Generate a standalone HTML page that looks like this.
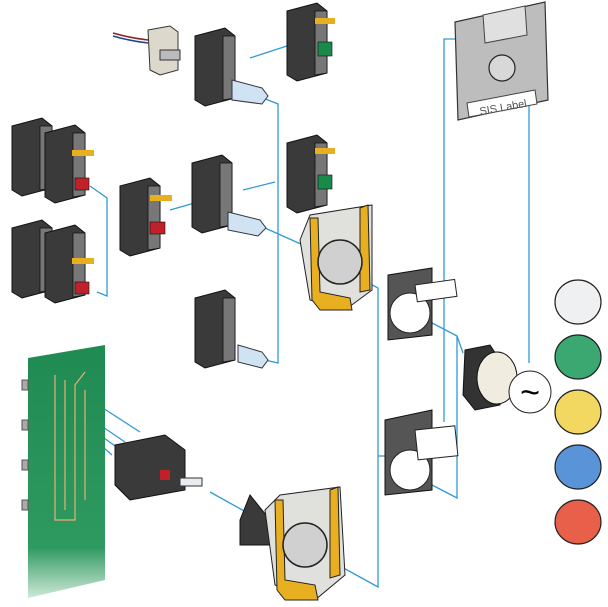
<!DOCTYPE html>
<html><head><meta charset="utf-8"><style>
html,body{margin:0;padding:0;background:#fff;width:608px;height:607px;overflow:hidden}
svg{display:block}
</style></head><body>
<svg width="608" height="607" viewBox="0 0 608 607" xmlns="http://www.w3.org/2000/svg" font-family="Liberation Sans, sans-serif">
<defs>
<linearGradient id="pcb" x1="0" y1="0" x2="0" y2="1"><stop offset="0" stop-color="#1f8a52"/><stop offset="0.8" stop-color="#2e9a60"/><stop offset="1" stop-color="#cfe8d8"/></linearGradient>
<g id="blk">
 <path d="M0 8 L30 0 L40 8 L40 70 L10 78 L0 72 Z" fill="#3a3a3a" stroke="#111" stroke-width="1"/>
 <path d="M28 8 L40 8 L40 70 L28 72 Z" fill="#777" stroke="#111" stroke-width="0.8"/>
</g>
</defs>

<!-- blue connector lines -->
<g stroke="#2f9ad6" stroke-width="1.3" fill="none">
<polyline points="455,39 444,39 444,422"/>
<polyline points="508,70 529,78 529,363"/>
<polyline points="413,313 457,336 463,353"/>
<polyline points="457,336 457,498 432,485"/>
<polyline points="337,266 378,288 378,587 300,544"/>
<line x1="378" y1="456" x2="386" y2="456"/>
<polyline points="263,98 278,104 278,363 265,360"/>
<line x1="250" y1="58" x2="293" y2="44"/>
<line x1="243" y1="190" x2="275" y2="182"/>
<line x1="265" y1="228" x2="303" y2="245"/>
<line x1="170" y1="210" x2="198" y2="202"/>
<polyline points="90,186 107,198 107,296 97,292"/>
<line x1="210" y1="492" x2="255" y2="517"/>
<line x1="75" y1="390" x2="140" y2="432"/>
<line x1="60" y1="398" x2="125" y2="442"/>
<line x1="65" y1="410" x2="118" y2="448"/>
<line x1="78" y1="425" x2="112" y2="455"/>
</g>

<!-- wired connector -->
<path d="M113 33 Q130 38 148 40" stroke="#822" stroke-width="1.5" fill="none"/>
<path d="M113 36 Q130 41 148 43" stroke="#248" stroke-width="1.5" fill="none"/>
<path d="M148 30 L170 26 L178 32 L178 70 L160 75 L150 70 Z" fill="#ddd8cc" stroke="#333"/>
<rect x="160" y="50" width="20" height="10" fill="#bbb" stroke="#333"/>

<!-- contact blocks -->
<use href="#blk" transform="translate(195,28)"/>
<use href="#blk" transform="translate(287,3)"/>
<use href="#blk" transform="translate(287,135)"/>
<use href="#blk" transform="translate(192,155)"/>
<use href="#blk" transform="translate(195,290)"/>
<use href="#blk" transform="translate(120,178)"/>
<use href="#blk" transform="translate(12,118)"/>
<use href="#blk" transform="translate(45,125)"/>
<use href="#blk" transform="translate(12,220)"/>
<use href="#blk" transform="translate(45,225)"/>
<!-- green/red buttons -->
<g fill="#1a8a4a" stroke="#111" stroke-width="0.6">
<rect x="318" y="42" width="14" height="14"/><rect x="318" y="175" width="14" height="14"/></g>
<g fill="#c0202a" stroke="#111" stroke-width="0.6">
<rect x="75" y="178" width="14" height="12"/><rect x="75" y="282" width="14" height="12"/><rect x="150" y="222" width="15" height="12"/></g>
<g fill="#e8b020"><rect x="72" y="150" width="22" height="6"/><rect x="72" y="258" width="22" height="6"/><rect x="150" y="195" width="22" height="6"/><rect x="315" y="18" width="20" height="6"/><rect x="315" y="148" width="20" height="6"/></g>
<!-- lamps -->
<g fill="#cfe3f2" stroke="#334" stroke-width="1">
<path d="M232 80 L262 88 L268 96 L262 104 L232 100 Z"/>
<path d="M228 212 L260 220 L266 228 L258 236 L228 230 Z"/>
<path d="M238 345 L262 352 L268 360 L262 368 L238 362 Z"/>
</g>

<!-- PCB -->
<path d="M28 358 L105 345 L105 580 L28 598 Z" fill="url(#pcb)"/>
<g stroke="#e8b070" fill="none" stroke-width="1.2">
<path d="M55 375 L55 520 L75 520 L75 385 L85 372"/><path d="M65 380 L65 510"/><path d="M85 390 L85 500"/>
</g>
<g fill="#aaa" stroke="#555"><rect x="22" y="380" width="6" height="10"/><rect x="22" y="420" width="6" height="10"/><rect x="22" y="460" width="6" height="10"/><rect x="22" y="500" width="6" height="10"/></g>
<!-- PCB module -->
<path d="M115 445 L165 435 L185 450 L185 490 L130 500 L115 485 Z" fill="#3a3a3a" stroke="#111"/>
<rect x="160" y="470" width="10" height="10" fill="#c0202a"/>
<rect x="180" y="478" width="22" height="8" fill="#e8eef0" stroke="#333"/>

<!-- yellow collars -->
<g>
<path d="M300 240 L310 215 L372 205 L372 290 L345 310 L310 300 Z" fill="#e0e0dc" stroke="#222"/>
<path d="M310 218 L318 218 L320 292 L350 298 L352 310 L320 310 L312 300 Z" fill="#e8b020" stroke="#222"/>
<path d="M360 208 L368 205 L370 290 L360 292 Z" fill="#e8b020" stroke="#222"/>
<circle cx="340" cy="262" r="22" fill="#d0d0d0" stroke="#222" stroke-width="1.5"/>
</g>
<g>
<path d="M240 520 L250 495 L270 520 L270 545 L240 545 Z" fill="#3a3a3a" stroke="#111"/>
<path d="M265 510 L280 495 L340 487 L345 575 L315 600 L275 585 Z" fill="#e0e0dc" stroke="#222"/>
<path d="M275 500 L283 500 L285 580 L315 585 L318 600 L285 600 L277 590 Z" fill="#e8b020" stroke="#222"/>
<path d="M330 490 L338 487 L340 575 L330 578 Z" fill="#e8b020" stroke="#222"/>
<circle cx="305" cy="545" r="22" fill="#d0d0d0" stroke="#222" stroke-width="1.5"/>
</g>

<!-- legend holders -->
<path d="M388 275 L432 268 L432 335 L388 340 Z" fill="#555" stroke="#111"/>
<circle cx="410" cy="313" r="20" fill="#fff" stroke="#222"/>
<rect x="415" y="285" width="40" height="17" fill="#fff" stroke="#222" transform="rotate(-8 415 285)"/>
<path d="M385 420 L432 410 L432 490 L385 495 Z" fill="#555" stroke="#111"/>
<circle cx="410" cy="470" r="20" fill="#fff" stroke="#222"/>
<rect x="415" y="430" width="40" height="30" fill="#fff" stroke="#222" transform="rotate(-6 415 430)"/>

<!-- push button -->
<path d="M465 350 L490 345 L500 360 L500 405 L475 410 L463 395 Z" fill="#333" stroke="#111"/>
<ellipse cx="497" cy="378" rx="20" ry="26" fill="#f0ede0" stroke="#111"/>
<circle cx="530" cy="392" r="21" fill="#fff" stroke="#222"/>
<text x="530" y="404" font-size="34" text-anchor="middle" fill="#000">~</text>

<!-- floppy -->
<path d="M455 22 L545 2 L548 100 L458 120 Z" fill="#bdbdbd" stroke="#333" stroke-width="1.2"/>
<path d="M483 15 L525 6 L527 35 L485 43 Z" fill="#e0e0e0" stroke="#444"/>
<circle cx="502" cy="68" r="13" fill="#d8d8d8" stroke="#222" stroke-width="1.2"/>
<path d="M467 103 L535 90 L537 104 L469 117 Z" fill="#fff" stroke="#444"/>
<text x="503" y="111" font-size="11" fill="#555" text-anchor="middle" transform="rotate(-10 503 107)">SIS Label</text>

<!-- caps -->
<g stroke="#222" stroke-width="1.2">
<ellipse cx="578" cy="302" rx="23" ry="22" fill="#eef0f2"/>
<ellipse cx="578" cy="357" rx="23" ry="22" fill="#3aa870"/>
<ellipse cx="578" cy="412" rx="23" ry="22" fill="#f2d860"/>
<ellipse cx="578" cy="467" rx="23" ry="22" fill="#5a94d8"/>
<ellipse cx="578" cy="522" rx="23" ry="22" fill="#e8604a"/>
</g>
</svg>
</body></html>
